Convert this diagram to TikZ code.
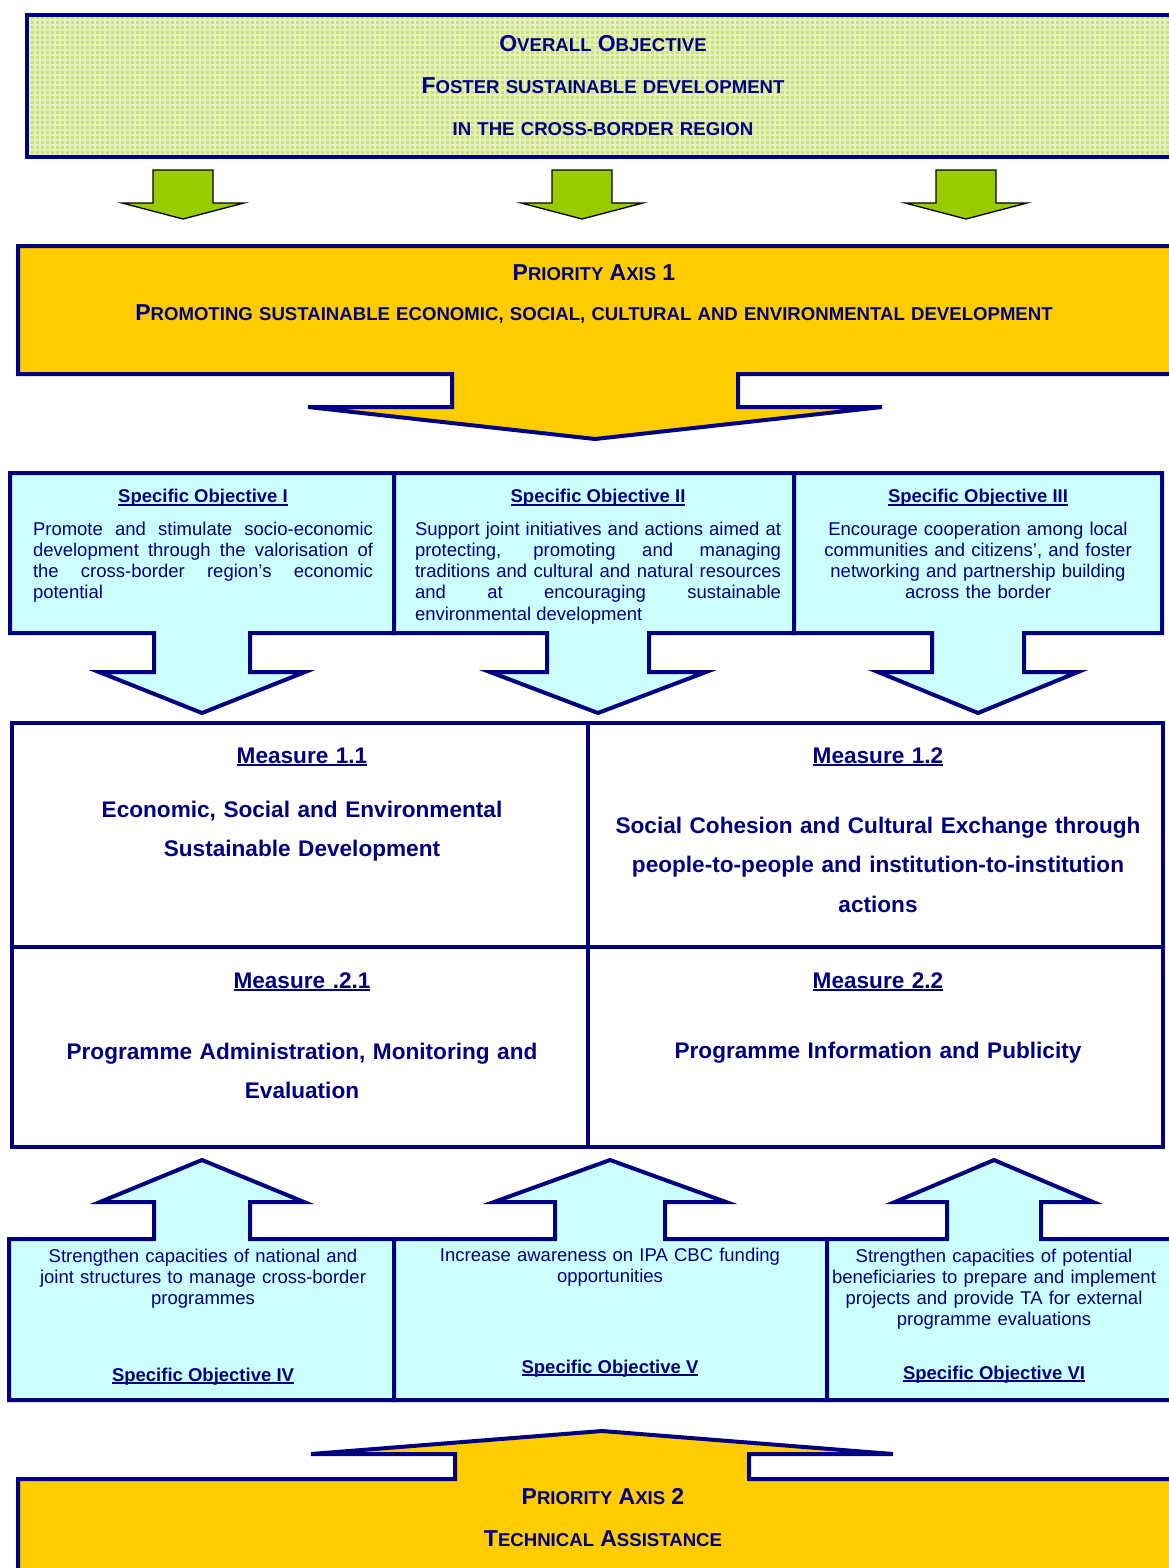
\documentclass[tikz,border=0pt]{standalone}
\usepackage{fontspec}
\setmainfont{Liberation Sans}
\usetikzlibrary{positioning}
\definecolor{navy}{RGB}{0,0,128}
\definecolor{axisgold}{RGB}{255,204,0}
\definecolor{objcyan}{RGB}{204,255,255}
\definecolor{arrowgreen}{RGB}{153,204,0}
\definecolor{gridgreen}{RGB}{200,226,120}
\newcommand{\scbig}[1]{{\fontsize{23}{23}\selectfont #1}}
\newcommand{\undl}[1]{\leavevmode\setbox0\hbox{#1}\rlap{\rule[-3pt]{\wd0}{1.8pt}}\box0}
\newcommand{\nohyph}{\hyphenpenalty=10000 \exhyphenpenalty=10000\relax}

\begin{document}
\begin{tikzpicture}[x=1pt, y=-1pt,
  frame/.style={draw=navy, line width=4pt, line join=miter},
  axisbox/.style={frame, fill=axisgold},
  objbox/.style={frame, fill=objcyan},
  greenarrow/.style={fill=arrowgreen, draw=black, line width=1.3pt, line join=miter},
  axistext/.style={text=navy, font=\bfseries\fontsize{18.6}{42}\selectfont, text width=1100pt, align=center, anchor=base, inner sep=0pt},
  objtitle/.style={text=navy, font=\bfseries\fontsize{18.5}{21.3}\selectfont, anchor=base, inner sep=0pt},
  objtext/.style={text=navy, font=\fontsize{18.5}{21.3}\selectfont, text width=390pt, align=center, anchor=base, inner sep=0pt},
  meastext/.style={text=navy, font=\bfseries\fontsize{22.6}{39.5}\selectfont, text width=570pt, align=center, anchor=base, inner sep=0pt}]

  \path[use as bounding box, fill=white] (0,0) rectangle (1168,1568);

  \begin{scope}
    \clip (27,15) rectangle (1180,157);
    \fill[gridgreen] (27,15) rectangle (1180,157);
    \draw[white, opacity=0.55, line width=1.3pt, step=5pt] (20,10) grid (1185,165);
  \end{scope}
  \draw[frame] (27,15) rectangle (1180,157);
  \node[axistext] (overall) at (603,52) {\scbig{O}VERALL \scbig{O}BJECTIVE\\\scbig{F}OSTER SUSTAINABLE DEVELOPMENT\\IN THE CROSS-BORDER REGION};

  \foreach \cx in {183,582,966}
    \draw[greenarrow] (\cx-30,170) -- (\cx+30,170) -- (\cx+30,203) -- (\cx+61,203) -- (\cx,219) -- (\cx-61,203) -- (\cx-30,203) -- cycle;

  \draw[axisbox] (18,246) -- (1180,246) -- (1180,374) -- (738,374) -- (738,407) -- (882,407) -- (595,439) -- (308,407) -- (452,407) -- (452,374) -- (18,374) -- cycle;
  \node[axistext, font=\bfseries\fontsize{18.6}{40}\selectfont] (axis1) at (594,280) {\scbig{P}RIORITY \scbig{A}XIS \scbig{1}\\\scbig{P}ROMOTING SUSTAINABLE ECONOMIC, SOCIAL, CULTURAL AND ENVIRONMENTAL DEVELOPMENT};

  \foreach \l/\r/\c/\s/\w in {10/394/202/48/103, 394/794/598/51/108, 794/1162/978/46/100}
    \draw[objbox] (\l,473) -- (\r,473) -- (\r,633) -- (\c+\s,633) -- (\c+\s,672) -- (\c+\w,672) -- (\c,713) -- (\c-\w,672) -- (\c-\s,672) -- (\c-\s,633) -- (\l,633) -- cycle;

  \node[objtitle] (so1title) at (203,502.5) {\undl{Specific Objective I}};
  \node[objtitle] (so2title) at (598,502.5) {\undl{Specific Objective II}};
  \node[objtitle] (so3title) at (978,502.5) {\undl{Specific Objective III}};
  \node[objtext, text width=340pt, align=justify, below=32.5pt of so1title.base, anchor=base] (so1) {\nohyph Promote and stimulate socio-economic\linebreak development through the valorisation of\linebreak the cross-border region’s economic\linebreak potential};
  \node[objtext, text width=366pt, align=justify, below=32.5pt of so2title.base, anchor=base] (so2) {\nohyph Support joint initiatives and actions aimed at\linebreak protecting, promoting and managing\linebreak traditions and cultural and natural resources\linebreak and at encouraging sustainable\linebreak environmental development};
  \node[objtext, below=32.5pt of so3title.base, anchor=base] (so3) {Encourage cooperation among local\\communities and citizens’, and foster\\networking and partnership building\\across the border};

  \draw[frame] (12,723) rectangle (1163,1147);
  \draw[frame] (588,723) -- (588,1147) (12,947) -- (1163,947);

  \node[meastext] (m11title) at (302,763) {\undl{Measure 1.1}};
  \node[meastext] (m11) at (302,817) {Economic, Social and Environmental\\Sustainable Development};
  \node[meastext] (m12title) at (878,763) {\undl{Measure 1.2}};
  \node[meastext] (m12) at (878,833) {Social Cohesion and Cultural Exchange through\\people-to-people and institution-to-institution\\actions};
  \node[meastext] (m21title) at (302,988) {\undl{Measure .2.1}};
  \node[meastext] (m21) at (302,1059) {Programme Administration, Monitoring and\\Evaluation};
  \node[meastext] (m22title) at (878,988) {\undl{Measure 2.2}};
  \node[meastext] (m22) at (878,1058) {Programme Information and Publicity};

  \foreach \l/\r/\c/\s/\w in {9/394/202/48/102, 394/827/610/55/116, 827/1180/994/47/99}
    \draw[objbox] (\l,1400) -- (\l,1239) -- (\c-\s,1239) -- (\c-\s,1202) -- (\c-\w,1202) -- (\c,1160) -- (\c+\w,1202) -- (\c+\s,1202) -- (\c+\s,1239) -- (\r,1239) -- (\r,1400) -- cycle;

  \node[objtext] (so4) at (203,1262) {Strengthen capacities of national and\\joint structures to manage cross-border\\programmes};
  \node[objtitle] (so4title) at (203,1381) {\undl{Specific Objective IV}};
  \node[objtext] (so5) at (610,1261) {Increase awareness on IPA CBC funding\\opportunities};
  \node[objtitle] (so5title) at (610,1373) {\undl{Specific Objective V}};
  \node[objtext] (so6) at (994,1262) {Strengthen capacities of potential\\beneficiaries to prepare and implement\\projects and provide TA for external\\programme evaluations};
  \node[objtitle] (so6title) at (994,1379) {\undl{Specific Objective VI}};

  \draw[axisbox] (18,1580) -- (18,1479) -- (455,1479) -- (455,1454) -- (311,1454) -- (602,1431) -- (893,1454) -- (749,1454) -- (749,1479) -- (1180,1479) -- (1180,1580) -- cycle;
  \node[axistext] (axis2) at (603,1504) {\scbig{P}RIORITY \scbig{A}XIS \scbig{2}\\\scbig{T}ECHNICAL \scbig{A}SSISTANCE};
\end{tikzpicture}
\end{document}
